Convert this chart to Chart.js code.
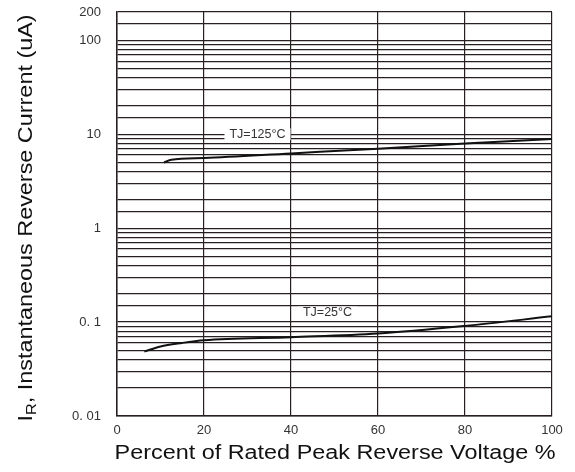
<!DOCTYPE html>
<html>
<head>
<meta charset="utf-8">
<script src="https://cdn.jsdelivr.net/npm/chart.js@4"></script>
<style>
  html, body { margin: 0; padding: 0; background: #fff; }
  #wrap { width: 575px; height: 472px; }
</style>
</head>
<body>
<div id="wrap"><canvas id="myChart" width="575" height="472"></canvas></div>
<script>
'use strict'
// values
let hotX = [10.8, 12.5, 20, 40, 60, 80, 100];
let hotY = [5.0, 5.35, 5.58, 6.25, 7.0, 7.98, 8.87];
let coldX = [6.3, 10, 15, 20, 40, 60, 80, 100];
let coldY = [0.0485, 0.055, 0.060, 0.064, 0.069, 0.0755, 0.091, 0.115];

let yTickValues = [0.01, 0.1, 1, 10, 100, 200];
let yTickLabels = ['0. 01', '0. 1', '1', '10', '100', '200'];
let xTickValues = [0, 20, 40, 60, 80, 100];

let curveLabels = ['TJ=125°C', 'TJ=25°C'];
let curveLabelX = [32.3, 48.4];
let curveLabelY = [10, 0.126];

let xTitle = 'Percent of Rated Peak Reverse Voltage %';
let yTitleMain = 'I';
let yTitleSub = 'R';
let yTitleRest = ', Instantaneous Reverse Current (uA)';

const gridColor = 'rgb(40, 32, 32)';
const stretch = 1.17; // the titles in the picture are drawn wider than Arial

function toPoints(xs, ys) {
    return xs.map((x, i) => ({ x: x, y: ys[i] }));
}

const textPlugin = {
    id: 'textPlugin',
    afterDraw(chart) {
        let ctx = chart.ctx;
        let xs = chart.scales.x;
        let ys = chart.scales.y;
        ctx.save();

        // curve labels with white box behind
        ctx.font = '12.5px "Liberation Sans", Arial, sans-serif';
        ctx.textAlign = 'center';
        ctx.textBaseline = 'middle';
        for (let i = 0; i < curveLabels.length; i++) {
            let px = xs.getPixelForValue(curveLabelX[i]);
            let py = ys.getPixelForValue(curveLabelY[i]);
            let w = ctx.measureText(curveLabels[i]).width;
            ctx.fillStyle = '#fff';
            ctx.fillRect(px - w / 2 - 5, py - 6, w + 10, 12);
            ctx.fillStyle = '#333';
            ctx.fillText(curveLabels[i], px, py);
        }

        // x title
        ctx.save();
        ctx.font = '20px "Liberation Sans", Arial, sans-serif';
        ctx.fillStyle = '#111';
        ctx.textAlign = 'center';
        ctx.textBaseline = 'middle';
        ctx.translate(335, 453);
        ctx.scale(stretch, 1);
        ctx.fillText(xTitle, 0, 0);
        ctx.restore();

        // y title with subscript
        let bigFont = '20px "Liberation Sans", Arial, sans-serif';
        let smallFont = '14px "Liberation Sans", Arial, sans-serif';
        ctx.font = bigFont;
        let w1 = ctx.measureText(yTitleMain).width;
        let w3 = ctx.measureText(yTitleRest).width;
        ctx.font = smallFont;
        let w2 = ctx.measureText(yTitleSub).width;
        let total = w1 + w2 + w3;
        ctx.fillStyle = '#111';
        ctx.translate(32, 218);
        ctx.rotate(-Math.PI / 2);
        ctx.scale(stretch, 1);
        ctx.textAlign = 'left';
        ctx.textBaseline = 'alphabetic';
        let start = -total / 2;
        ctx.font = bigFont;
        ctx.fillText(yTitleMain, start, 0);
        ctx.font = smallFont;
        ctx.fillText(yTitleSub, start + w1, 4);
        ctx.font = bigFont;
        ctx.fillText(yTitleRest, start + w1 + w2, 0);
        ctx.restore();
    }
};

let ctx = document.getElementById('myChart');
let myChart = new Chart(ctx, {
    type: 'line',
    data: {
        datasets: [{
            label: curveLabels[0],
            data: toPoints(hotX, hotY),
            borderColor: '#111',
            borderWidth: 2,
            pointRadius: 0,
            cubicInterpolationMode: 'monotone'
        },
        {
            label: curveLabels[1],
            data: toPoints(coldX, coldY),
            borderColor: '#111',
            borderWidth: 2,
            pointRadius: 0,
            cubicInterpolationMode: 'monotone'
        }]
    },
    options: {
        responsive: false,
        animation: false,
        layout: { padding: { top: 12, right: 23, left: 0, bottom: 0 } },
        plugins: {
            legend: { display: false },
            tooltip: { enabled: false }
        },
        scales: {
            x: {
                type: 'linear',
                min: 0,
                max: 100,
                afterBuildTicks: (scale) => {
                    scale.ticks = xTickValues.map(v => ({ value: v }));
                },
                afterFit: (scale) => {
                    scale.height = 56;
                    scale.paddingLeft = 0;
                    scale.paddingRight = 0;
                },
                grid: { color: gridColor, lineWidth: 1.2, drawTicks: false },
                border: { color: gridColor, width: 1.5 },
                ticks: {
                    padding: 7,
                    color: '#333',
                    font: { family: '"Liberation Sans", Arial, sans-serif', size: 13 },
                    maxRotation: 0,
                    autoSkip: false
                }
            },
            y: {
                type: 'logarithmic',
                min: 0.01,
                max: 200,
                afterFit: (scale) => {
                    scale.width = 117;
                    scale.paddingTop = 0;
                    scale.paddingBottom = 0;
                },
                grid: { color: gridColor, lineWidth: 1.2, drawTicks: false },
                border: { color: gridColor, width: 1.5 },
                ticks: {
                    padding: 16,
                    color: '#333',
                    autoSkip: false,
                    font: { family: '"Liberation Sans", Arial, sans-serif', size: 13 },
                    callback: function (value) {
                        for (let i = 0; i < yTickValues.length; i++) {
                            if (Math.abs(value - yTickValues[i]) < yTickValues[i] * 1e-6) {
                                return yTickLabels[i];
                            }
                        }
                        return '';
                    }
                }
            }
        }
    },
    plugins: [textPlugin]
});
</script>
</body>
</html>
